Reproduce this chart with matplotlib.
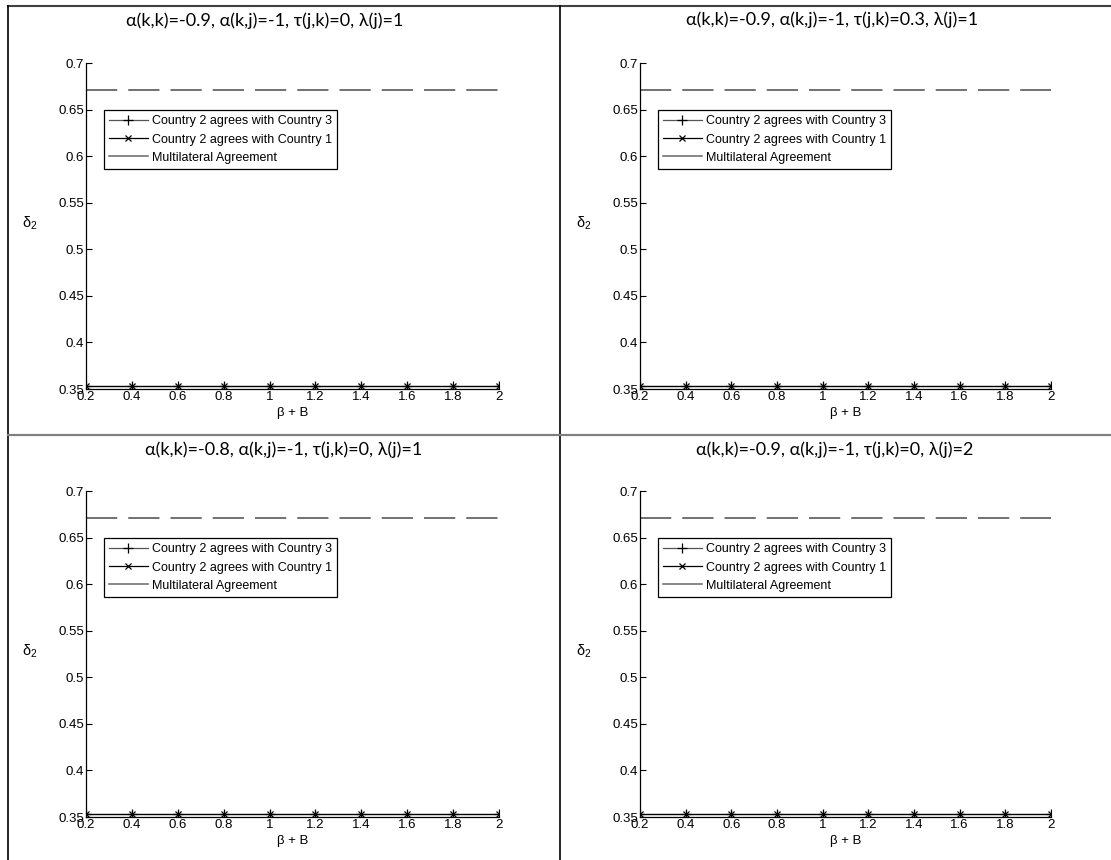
import matplotlib
matplotlib.use('Agg')
import matplotlib.pyplot as plt
from matplotlib.lines import Line2D

W, H = 1111, 860

# x values (beta + B)
beta_B = [0.2, 0.4, 0.6, 0.8, 1.0, 1.2, 1.4, 1.6, 1.8, 2.0]

# delta_2 thresholds, same in all four panels
agree_c3 = [0.3535, 0.3535, 0.3535, 0.3535, 0.3535, 0.3535, 0.3535, 0.3535, 0.3535, 0.3535]
agree_c1 = [0.3535, 0.3535, 0.3535, 0.3535, 0.3535, 0.3535, 0.3535, 0.3535, 0.3535, 0.3535]
multilateral = [0.6713, 0.6713, 0.6713, 0.6713, 0.6713, 0.6713, 0.6713, 0.6713, 0.6713, 0.6713]

titles = [
    'α(k,k)=-0.9, α(k,j)=-1, τ(j,k)=0, λ(j)=1',
    'α(k,k)=-0.9, α(k,j)=-1, τ(j,k)=0.3, λ(j)=1',
    'α(k,k)=-0.8, α(k,j)=-1, τ(j,k)=0, λ(j)=1',
    'α(k,k)=-0.9, α(k,j)=-1, τ(j,k)=0, λ(j)=2',
]
legend_labels = ['Country 2 agrees with Country 3',
                 'Country 2 agrees with Country 1',
                 'Multilateral Agreement']
x_ticks = [0.2, 0.4, 0.6, 0.8, 1.0, 1.2, 1.4, 1.6, 1.8, 2.0]
x_ticklabels = ['0.2', '0.4', '0.6', '0.8', '1', '1.2', '1.4', '1.6', '1.8', '2']
y_ticks = [0.35, 0.4, 0.45, 0.5, 0.55, 0.6, 0.65, 0.7]
y_ticklabels = ['0.35', '0.4', '0.45', '0.5', '0.55', '0.6', '0.65', '0.7']

plt.rcParams['font.family'] = ['Liberation Sans', 'DejaVu Sans']
plt.rcParams['mathtext.fontset'] = 'custom'
plt.rcParams['mathtext.rm'] = 'Liberation Serif'
plt.rcParams['mathtext.it'] = 'Liberation Serif'

fig = plt.figure(figsize=(W / 100, H / 100), dpi=100)

# axes boxes in pixels: left, right, top, bottom
boxes = [(86, 499, 63.3, 389), (640, 1051, 63.3, 389),
         (86, 499, 491.3, 817), (640, 1051, 491.3, 817)]
title_pos = [(265, 21), (832, 20), (284, 450), (835, 450)]


def px(x, y):
    return x / W, 1 - y / H


for i, (l, r, t, b) in enumerate(boxes):
    ax = fig.add_axes([l / W, 1 - b / H, (r - l) / W, (b - t) / H])
    ax.plot(beta_B, agree_c3, color='#555555', lw=0.9, marker='+', ms=7,
            mec='black', mew=0.9)
    ax.plot(beta_B, agree_c1, color='black', lw=0.9, marker='x', ms=4.5, mew=0.9)
    ax.plot(beta_B, multilateral, color='#666666', lw=1.3, dashes=(17.3, 6.1))

    ax.set_xlim(0.2, 2)
    ax.set_ylim(0.35, 0.7)
    ax.set_xticks(x_ticks)
    ax.set_xticklabels(x_ticklabels)
    ax.set_yticks(y_ticks)
    ax.set_yticklabels(y_ticklabels)
    ax.tick_params(direction='in', length=4, width=0.8, labelsize=9.5,
                   pad=1.5, colors='black')
    ax.tick_params(axis='x', pad=1.5)
    for s in ['top', 'right']:
        ax.spines[s].set_visible(False)
    for s in ['left', 'bottom']:
        ax.spines[s].set_linewidth(0.9)

    ax.set_xlabel('β + B', fontsize=9.5, labelpad=2.5)
    ax.set_ylabel(r'$\mathregular{\delta_2}$', fontsize=10.5, rotation=0,
                  va='center', ha='center')
    ax.yaxis.set_label_coords(-56 / (r - l), (b - (t + 160)) / (b - t))

    handles = [
        Line2D([], [], color='#555555', lw=0.9, marker='+', ms=7, mec='black', mew=0.9),
        Line2D([], [], color='black', lw=0.9, marker='x', ms=4, mew=0.9),
        Line2D([], [], color='#666666', lw=1.1),
    ]
    leg = ax.legend(handles, legend_labels, loc='upper left',
                    bbox_to_anchor=(18 / (r - l), (b - (t + 47)) / (b - t)),
                    borderaxespad=0, fontsize=9, handlelength=3.1,
                    handletextpad=0.3, labelspacing=0.5, borderpad=0.4,
                    fancybox=False, framealpha=1, edgecolor='black')
    leg.get_frame().set_linewidth(0.9)

    tx, ty = title_pos[i]
    fig.text(*px(tx, ty), titles[i], ha='center', va='center',
             fontsize=13, family=['Lato', 'DejaVu Sans'])

# table borders around the four panels
border_lines = [
    ((8, 6), (1111, 6), '#404040', 1.5),
    ((8, 6), (8, 860), 'black', 1.2),
    ((560, 6), (560, 860), 'black', 1.2),
    ((8, 435), (1111, 435), '#808080', 1.6),
]
for (x0, y0), (x1, y1), c, lw in border_lines:
    a0, b0 = px(x0, y0)
    a1, b1 = px(x1, y1)
    fig.add_artist(Line2D([a0, a1], [b0, b1], transform=fig.transFigure,
                          color=c, lw=lw))

fig.savefig('out.png', dpi=100)
